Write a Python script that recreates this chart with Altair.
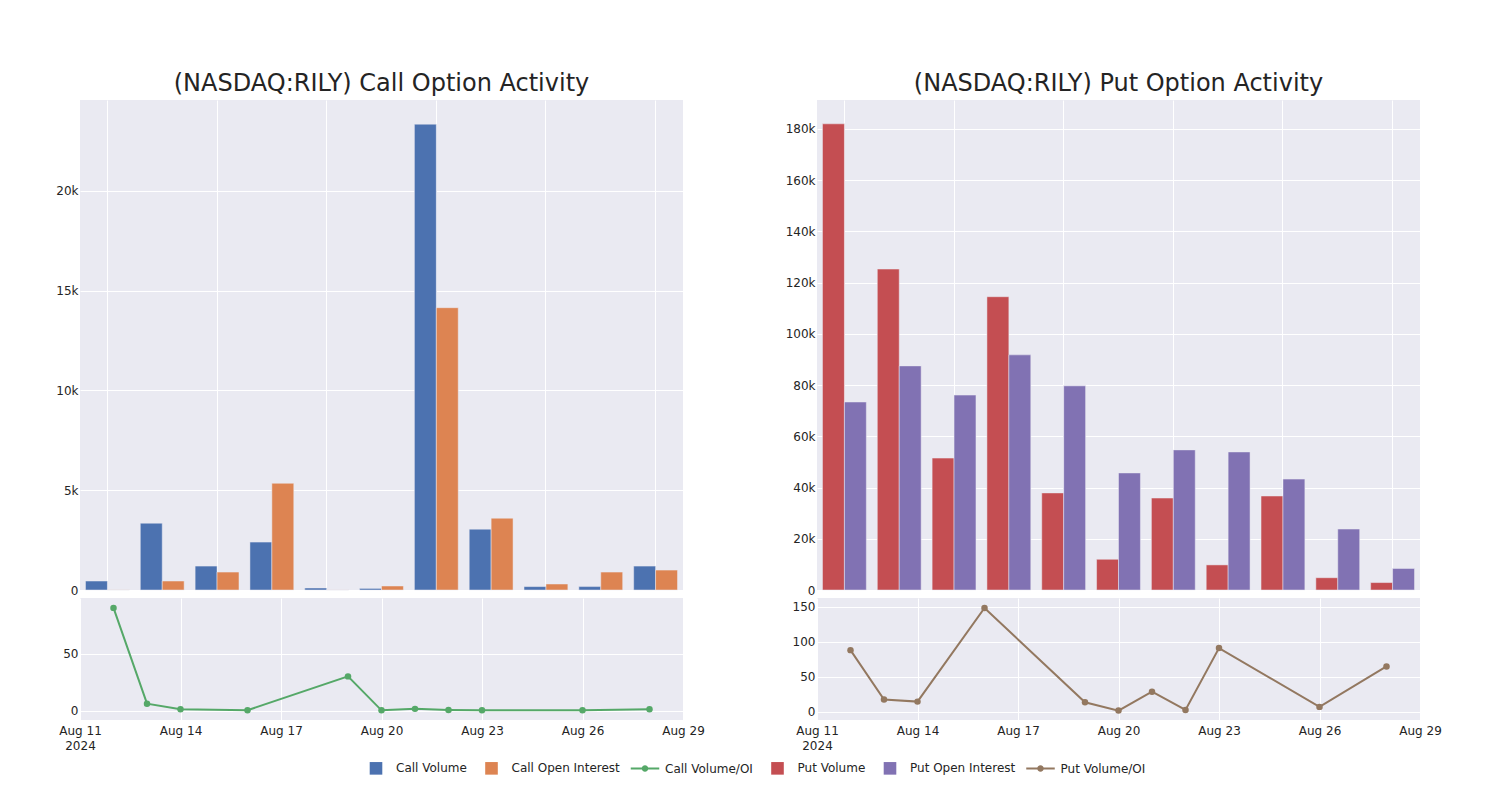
import altair as alt
import pandas as pd

# ---------------- data ----------------
dates = ["2024-08-12", "2024-08-13", "2024-08-14", "2024-08-16", "2024-08-19",
         "2024-08-20", "2024-08-21", "2024-08-22", "2024-08-23", "2024-08-26", "2024-08-28"]

call_volume = [450, 3350, 1200, 2400, 100, 80, 23350, 3050, 170, 170, 1200]
call_open_interest = [5, 450, 900, 5350, 3, 200, 14150, 3600, 300, 900, 1000]
call_ratio = [90.4, 6.1, 1.2, 0.3, 30.1, 0.2, 1.5, 0.6, 0.3, 0.2, 1.2]

put_volume = [182000, 125300, 51500, 114500, 37900, 12000, 35900, 9800, 36700, 4800, 2900]
put_open_interest = [73400, 87500, 76100, 91800, 79700, 45700, 54700, 53900, 43300, 23800, 8400]
put_ratio = [88.0, 17.5, 14.6, 148.0, 13.6, 1.8, 28.8, 2.8, 90.9, 7.1, 64.8]

series_names = ["Call Volume", "Call Open Interest", "Call Volume/OI",
                "Put Volume", "Put Open Interest", "Put Volume/OI"]
series_colors = ["#4C72B0", "#DD8452", "#55A868", "#C44E52", "#8172B3", "#937860"]

call_title = "(NASDAQ:RILY) Call Option Activity"
put_title = "(NASDAQ:RILY) Put Option Activity"

call_y_ticks = [0, 5000, 10000, 15000, 20000]
put_y_ticks = [0, 20000, 40000, 60000, 80000, 100000, 120000, 140000, 160000, 180000]
call_ratio_ticks = [0, 50]
put_ratio_ticks = [0, 50, 100, 150]

# ---------------- styling ----------------
FONT = "DejaVu Sans"
TXT = "#242424"
BG = "#EAEAF2"
W_PANEL = 603
H_BAR = 490
H_LINE = 122
VIEW = alt.ViewBackground(fill=BG, strokeWidth=0)

square_path = "M-0.42,-0.42L0.42,-0.42L0.42,0.42L-0.42,0.42Z"
line_dot_path = ("M-0.95,-0.07L0.95,-0.07L0.95,0.07L-0.95,0.07Z "
                 "M-0.22,0A0.22,0.22 0 1,1 0.22,0A0.22,0.22 0 1,1 -0.22,0Z")
series_shapes = [square_path, square_path, line_dot_path,
                 square_path, square_path, line_dot_path]

color_scale = alt.Scale(domain=series_names, range=series_colors)
k_label = "datum.value == 0 ? '0' : format(datum.value / 1000, 'd') + 'k'"


def bar_frame(vol, oi, vol_name, oi_name):
    rows = []
    for d, v, o in zip(dates, vol, oi):
        rows.append({"date": d, "kind": "Volume", "series": vol_name, "value": v})
        rows.append({"date": d, "kind": "Open Interest", "series": oi_name, "value": o})
    return pd.DataFrame(rows)


def line_frame(ratio, name):
    return pd.DataFrame({"date": dates, "ratio": ratio, "series": [name] * len(dates)})


def legend_layer():
    leg_df = pd.DataFrame({"series": series_names})
    common = dict(title=None, orient="none", legendX=281, legendY=653, direction="horizontal")
    return alt.Chart(leg_df).mark_point(filled=True, opacity=0).encode(
        color=alt.Color("series:N", scale=color_scale, sort=series_names,
                        legend=alt.Legend(**common)),
        shape=alt.Shape("series:N", sort=series_names,
                        scale=alt.Scale(domain=series_names, range=series_shapes),
                        legend=alt.Legend(**common)),
    )


def bar_chart(df, title, ymax, yticks, with_legend=False):
    bars = alt.Chart(df).mark_bar(stroke=BG, strokeWidth=0.5).encode(
        x=alt.X("date:N", sort=dates,
                scale=alt.Scale(paddingInner=0.2, paddingOuter=0.1),
                axis=alt.Axis(labels=False, ticks=False, domain=False, title=None,
                              grid=True, values=dates[::2], bandPosition=0.5,
                              gridColor="white", gridWidth=1)),
        xOffset=alt.XOffset("kind:N", sort=["Volume", "Open Interest"],
                            scale=alt.Scale(paddingInner=0, paddingOuter=0)),
        y=alt.Y("value:Q", scale=alt.Scale(domain=[0, ymax], nice=False),
                axis=alt.Axis(values=yticks, labelExpr=k_label, title=None)),
        color=alt.Color("series:N", scale=color_scale, legend=None),
    )
    layers = [legend_layer(), bars] if with_legend else [bars]
    return alt.layer(*layers).properties(
        width=W_PANEL, height=H_BAR, view=VIEW,
        title=alt.TitleParams(title, fontSize=24, font=FONT, color=TXT, fontWeight="normal",
                              anchor="middle", offset=4),
    )


def line_chart(df, lo, hi, yticks):
    base = alt.Chart(df).encode(
        x=alt.X("date:T",
                scale=alt.Scale(type="utc",
                                domain=[alt.DateTime(year=2024, month=8, date=11, utc=True),
                                        alt.DateTime(year=2024, month=8, date=29, utc=True)]),
                axis=alt.Axis(values=[alt.DateTime(year=2024, month=8, date=d, utc=True)
                                      for d in [11, 14, 17, 20, 23, 26, 29]],
                              labelExpr="utcdate(datum.value) == 11 ? [utcFormat(datum.value, '%b %d'), '2024'] : utcFormat(datum.value, '%b %d')",
                              labelFlush=False, labelLineHeight=15,
                              title=None, labelPadding=5)),
        y=alt.Y("ratio:Q", scale=alt.Scale(domain=[lo, hi], nice=False, zero=False),
                axis=alt.Axis(values=yticks, title=None)),
        color=alt.Color("series:N", scale=color_scale, legend=None),
    )
    return alt.layer(
        base.mark_line(strokeWidth=2),
        base.mark_point(filled=True, size=42, opacity=1),
    ).properties(width=W_PANEL, height=H_LINE, view=VIEW)


call_bars = bar_chart(bar_frame(call_volume, call_open_interest, "Call Volume", "Call Open Interest"),
                      call_title, 24560, call_y_ticks, with_legend=True)
put_bars = bar_chart(bar_frame(put_volume, put_open_interest, "Put Volume", "Put Open Interest"),
                     put_title, 191300, put_y_ticks)
call_line = line_chart(line_frame(call_ratio, "Call Volume/OI"), -8.3, 99.1, call_ratio_ticks)
put_line = line_chart(line_frame(put_ratio, "Put Volume/OI"), -11.6, 162.3, put_ratio_ticks)

left = alt.vconcat(call_bars, call_line, spacing=2)
right = alt.vconcat(put_bars, put_line, spacing=2)

chart = alt.hconcat(left, right, spacing=80).properties(
    padding={"left": 47, "top": 64, "right": 10, "bottom": 10},
    background="white",
).configure_view(
    fill=BG, strokeWidth=0,
).configure_axis(
    labelFont=FONT, labelFontSize=12, labelColor=TXT,
    domain=False, ticks=False, tickSize=0, labelPadding=2,
    gridColor="white", gridWidth=1,
).configure_legend(
    labelFont=FONT, labelFontSize=12, labelColor=TXT,
    symbolSize=900, symbolOpacity=1, symbolStrokeWidth=0,
    labelOffset=5, columnPadding=9.5,
)

chart.save("out.html", embed_options={"renderer": "svg", "actions": False})
